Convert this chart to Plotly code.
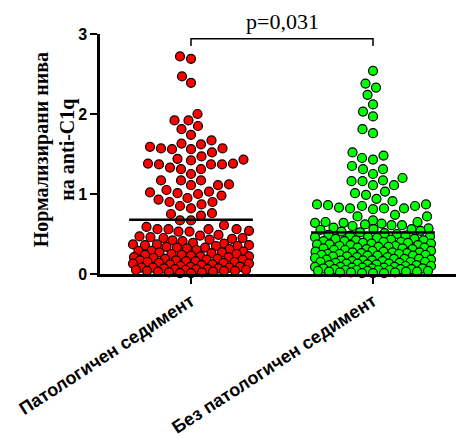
import numpy as np
import plotly.graph_objects as go

# Normalised anti-C1q levels, one value per patient
patologichen = [
    2.72, 2.69, 2.47, 2.39, 2.00, 1.92, 1.92, 1.85, 1.81, 1.74, 1.67, 1.63,
    1.62, 1.59, 1.57, 1.56, 1.52, 1.56, 1.57, 1.47,
    1.43, 1.38, 1.37, 1.37, 1.31, 1.31, 1.33, 1.37, 1.38, 1.42, 1.44,
    1.25, 1.17, 1.17, 1.17, 1.11, 1.11, 1.12,
    1.05, 1.02, 1.01, 1.03, 1.00, 0.95, 0.93, 0.98,
    0.90, 0.87, 0.90, 0.85, 0.82,
    0.75, 0.73, 0.76,
    0.67, 0.67, 0.61, 0.56, 0.53, 0.56, 0.56, 0.56, 0.59, 0.53, 0.54,
    0.49, 0.48, 0.47, 0.46, 0.45, 0.45, 0.44, 0.43, 0.42, 0.41,
    0.39, 0.38, 0.37, 0.37, 0.36, 0.36, 0.35, 0.35, 0.34, 0.33, 0.33, 0.32,
    0.31, 0.30,
    0.29, 0.29, 0.28, 0.27, 0.27, 0.26, 0.25, 0.25, 0.24, 0.24, 0.23, 0.22,
    0.22, 0.21, 0.21, 0.20,
    0.19, 0.19, 0.18, 0.18, 0.17, 0.17, 0.16, 0.16, 0.15, 0.15, 0.14, 0.14,
    0.13, 0.13, 0.12, 0.12, 0.11, 0.10,
    0.09, 0.09, 0.08, 0.08, 0.08, 0.07, 0.07, 0.06, 0.06, 0.06, 0.05, 0.05,
    0.05, 0.04, 0.04, 0.04, 0.03, 0.03, 0.02, 0.02, 0.01, 0.01,
]

bez_patologichen = [
    2.54, 2.38, 2.33, 2.24, 2.12, 2.03, 1.97, 1.81, 1.76, 1.52, 1.48, 1.45,
    1.43, 1.35, 1.31, 1.31,
    1.25, 1.20, 1.17, 1.16, 1.16, 1.11, 1.11, 1.03, 1.01, 0.99, 0.94, 0.91,
    0.87, 0.87, 0.86, 0.85, 0.85, 0.83, 0.82, 0.82, 0.82, 0.81,
    0.74, 0.72, 0.72,
    0.67, 0.65, 0.65, 0.64, 0.64, 0.63, 0.62, 0.61, 0.61, 0.60,
    0.58, 0.57, 0.56, 0.56, 0.55, 0.54, 0.53, 0.52, 0.51, 0.50,
    0.49, 0.48, 0.48, 0.47, 0.46, 0.46, 0.45, 0.44, 0.44, 0.43, 0.42, 0.42,
    0.41, 0.41, 0.40, 0.40,
    0.39, 0.39, 0.38, 0.38, 0.37, 0.37, 0.36, 0.36, 0.35, 0.35, 0.34, 0.34,
    0.33, 0.33, 0.32, 0.32, 0.31, 0.31, 0.30, 0.30,
    0.29, 0.29, 0.28, 0.28, 0.27, 0.27, 0.27, 0.26, 0.26, 0.25, 0.25, 0.25,
    0.24, 0.24, 0.23, 0.23, 0.23, 0.22, 0.22, 0.21, 0.21, 0.20,
    0.19, 0.19, 0.19, 0.18, 0.18, 0.17, 0.17, 0.17, 0.16, 0.16, 0.15, 0.15,
    0.15, 0.14, 0.14, 0.13, 0.13, 0.13, 0.12, 0.12, 0.11, 0.11, 0.10, 0.10,
    0.09, 0.09, 0.09, 0.08, 0.08, 0.08, 0.07, 0.07, 0.07, 0.06, 0.06, 0.06,
    0.05, 0.05, 0.05, 0.05, 0.04, 0.04, 0.04, 0.03, 0.03, 0.03, 0.02, 0.02,
    0.02, 0.01, 0.01, 0.01,
]

group_labels = ["Патологичен седимент", "Без патологичен седимент"]
group_colors = ["#FF0000", "#00FF00"]
p_text = "p=0,031"
y_ticks = [0, 1, 2, 3]

# Geometry of the plotting area (pixels)
W, H = 456, 438
M_L, M_R, M_T, M_B = 100, 0, 34, 162
X_RANGE = [-0.5, 1.456]
Y_RANGE = [0, 3]
px_per_x = (W - M_L - M_R) / (X_RANGE[1] - X_RANGE[0])
px_per_y = (H - M_T - M_B) / (Y_RANGE[1] - Y_RANGE[0])

DOT = 11.0        # centre-to-centre spacing of dots, px
HALF_W = 58.0     # maximum half width of a swarm, px


def swarm_offsets(values):
    """Greedy beeswarm: each dot goes to the free spot nearest the centre."""
    ys = np.asarray(values, float) * px_per_y
    order = np.argsort(ys, kind="stable")
    cand = np.arange(-HALF_W, HALF_W + 0.25, 0.5)
    cand = cand[np.argsort(np.abs(cand), kind="stable")]
    px, py = [], []
    off = np.zeros(len(ys))
    for i in order:
        y = ys[i]
        x = 0.0
        if px:
            ax, ay = np.array(px), np.array(py)
            near = np.abs(ay - y) < DOT
            if near.any():
                dx = cand[:, None] - ax[near][None, :]
                dy = (y - ay[near])[None, :]
                d = np.sqrt(dx ** 2 + dy ** 2).min(axis=1)
                ok = d >= DOT
                x = cand[np.argmax(ok)] if ok.any() else cand[np.argmax(d)]
        off[i] = x
        px.append(x)
        py.append(y)
    return off / px_per_x


fig = go.Figure()

for k, (vals, col) in enumerate(zip([patologichen, bez_patologichen], group_colors)):
    xs = k + swarm_offsets(vals)
    fig.add_trace(go.Scatter(
        x=xs, y=vals, mode="markers", cliponaxis=False, showlegend=False,
        marker=dict(size=9, color=col, line=dict(color="black", width=1.2)),
    ))
    m = float(np.mean(vals))
    fig.add_trace(go.Scatter(
        x=[k - 0.34, k + 0.34], y=[m, m], mode="lines", showlegend=False,
        line=dict(color="black", width=2.5), cliponaxis=False,
    ))

# Significance bracket between the two groups
y_br = 2.94
y_leg = 2.85
fig.add_trace(go.Scatter(
    x=[0, 0, 1, 1], y=[y_leg, y_br, y_br, y_leg], mode="lines",
    line=dict(color="black", width=1.5), showlegend=False, cliponaxis=False,
))

fig.add_annotation(
    x=0.5, y=1.05, xref="x", yref="paper", text=p_text, showarrow=False,
    font=dict(family="Liberation Serif", size=22, color="black"),
    xanchor="center", yanchor="middle",
)

# Two-line y-axis title
fig.add_annotation(
    x=-0.1285, y=0.5165, xref="paper", yref="paper",
    text="<b>Нормализирани нива</b><br><b>на anti-C1q</b>",
    textangle=-90, showarrow=False,
    font=dict(family="Liberation Serif", size=20, color="black"),
    xanchor="center", yanchor="middle",
)

fig.update_layout(
    width=W, height=H,
    margin=dict(l=M_L, r=M_R, t=M_T, b=M_B, pad=0),
    plot_bgcolor="white", paper_bgcolor="white",
)
fig.update_xaxes(
    range=X_RANGE, tickvals=[0, 1], ticktext=group_labels, tickangle=-33,
    showline=True, linecolor="black", linewidth=2.5,
    ticks="outside", ticklen=7, tickwidth=2, tickcolor="black",
    showgrid=False, zeroline=False,
    tickfont=dict(family="Liberation Sans", size=18, color="black", weight="bold"),
)
fig.update_yaxes(
    range=Y_RANGE, tickvals=y_ticks,
    showline=True, linecolor="black", linewidth=2.5,
    ticks="outside", ticklen=7, tickwidth=2, tickcolor="black",
    showgrid=False, zeroline=False,
    tickfont=dict(family="Liberation Sans", size=16, color="black", weight="bold"),
)

fig.write_html("out.html")
